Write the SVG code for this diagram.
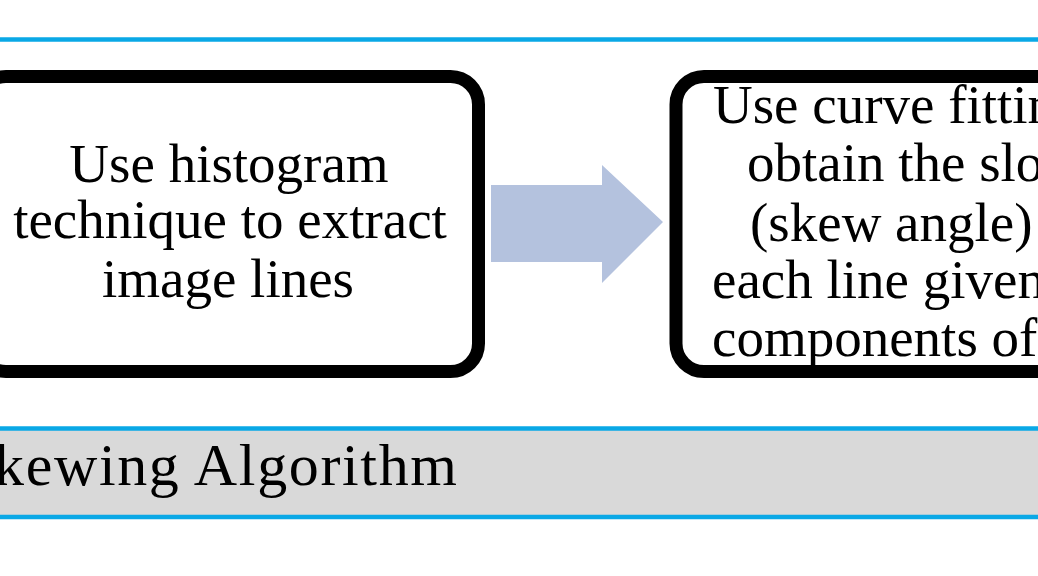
<svg xmlns="http://www.w3.org/2000/svg" width="1038" height="576" viewBox="0 0 1038 576">
<style>
.rule{stroke:#0aa8e6;stroke-width:4.5;fill:none}
.box{fill:#ffffff;stroke:#000000;stroke-width:13}
.t{font-family:"Liberation Serif","Times New Roman",serif;font-size:55px;fill:#000000}
.c{text-anchor:middle}
</style>
<rect x="0" y="0" width="1038" height="576" fill="#ffffff"/>
<line class="rule" x1="0" y1="39.5" x2="1038" y2="39.5"/>
<g id="node-histogram">
<rect class="box" x="-22" y="76.5" width="500.5" height="295" rx="28" ry="28"/>
<text class="t c" x="229" y="182">Use histogram</text>
<text class="t c" x="230" y="238">technique to extract</text>
<text class="t c" x="228" y="297">image lines</text>
</g>
<g id="connectors">
<polygon points="491,185 602,185 602,165 663,222 602,283 602,262 491,262" fill="#b4c2de"/>
</g>
<g id="node-curvefit">
<rect class="box" x="676" y="76.5" width="500" height="295" rx="28" ry="28"/>
<text class="t" x="713" y="123">Use curve fitting</text>
<text class="t" x="747" y="181">obtain the slope</text>
<text class="t" x="750" y="241">(skew angle)</text>
<text class="t" x="712" y="298">each line given</text>
<text class="t" x="712" y="356">components of</text>
</g>
<g id="caption">
<rect x="0" y="430" width="1038" height="86" fill="#d9d9d9"/>
<line class="rule" x1="0" y1="428.5" x2="1038" y2="428.5"/>
<line class="rule" x1="0" y1="517" x2="1038" y2="517"/>
<text class="t" x="-6" y="485" font-size="60" style="font-size:60px" textLength="463" lengthAdjust="spacing">kewing Algorithm</text>
</g>
</svg>
